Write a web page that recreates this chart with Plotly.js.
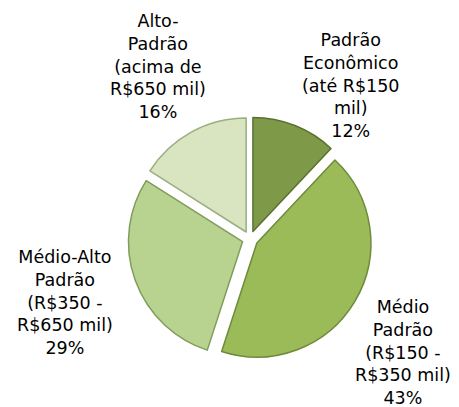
<!DOCTYPE html>
<html>
<head>
<meta charset="utf-8">
<script src="https://cdn.plot.ly/plotly-3.0.1.min.js"></script>
<style>html,body{margin:0;padding:0;background:#fff;}#chart{width:459px;height:407px;}</style>
</head>
<body>
<div id="chart"></div>
<script>
// Data (clockwise from 12 o'clock)
const categories = ['Padrão Econômico', 'Médio Padrão', 'Médio-Alto Padrão', 'Alto-Padrão'];
const labelLines = [
  ['Padrão', 'Econômico', '(até R$150', 'mil)'],
  ['Médio', 'Padrão', '(R$150 -', 'R$350 mil)'],
  ['Médio-Alto', 'Padrão', '(R$350 -', 'R$650 mil)'],
  ['Alto-', 'Padrão', '(acima de', 'R$650 mil)']
];
const values = [12, 43, 29, 16];
const colors = ['#7E9A48', '#9BBB59', '#B8D390', '#D8E5C0'];
const edgeColors = ['#5A7030', '#6F8A3A', '#809C5C', '#9AAE80'];

// Label positions (pixels in the 459x407 figure)
const labelPos = [[350, 85], [403, 352], [65, 302], [158, 67]];
const W = 459, H = 407;

const annotations = categories.map((c, i) => ({
  xref: 'paper', yref: 'paper',
  x: labelPos[i][0] / W, y: 1 - labelPos[i][1] / H,
  xanchor: 'center', yanchor: 'middle', align: 'center',
  showarrow: false,
  text: labelLines[i].join('<br>') + '<br>' + values[i] + '%',
  font: {family: 'DejaVu Sans, Verdana, sans-serif', size: 17.5, color: '#000'}
}));

const trace = {
  type: 'pie',
  labels: categories,
  values: values,
  sort: false,
  direction: 'clockwise',
  rotation: 0,
  pull: [0.07, 0.07, 0.07, 0.07],
  textinfo: 'none',
  hoverinfo: 'none',
  marker: {colors: colors, line: {color: edgeColors, width: 1.5}},
  domain: {x: [128 / W, 372 / W], y: [46 / H, 290 / H]},
  showlegend: false
};

Plotly.newPlot('chart', [trace], {
  width: W, height: H,
  margin: {l: 0, r: 0, t: 0, b: 0},
  paper_bgcolor: '#fff',
  showlegend: false,
  annotations: annotations
}, {displayModeBar: false, staticPlot: true});
</script>
</body>
</html>
